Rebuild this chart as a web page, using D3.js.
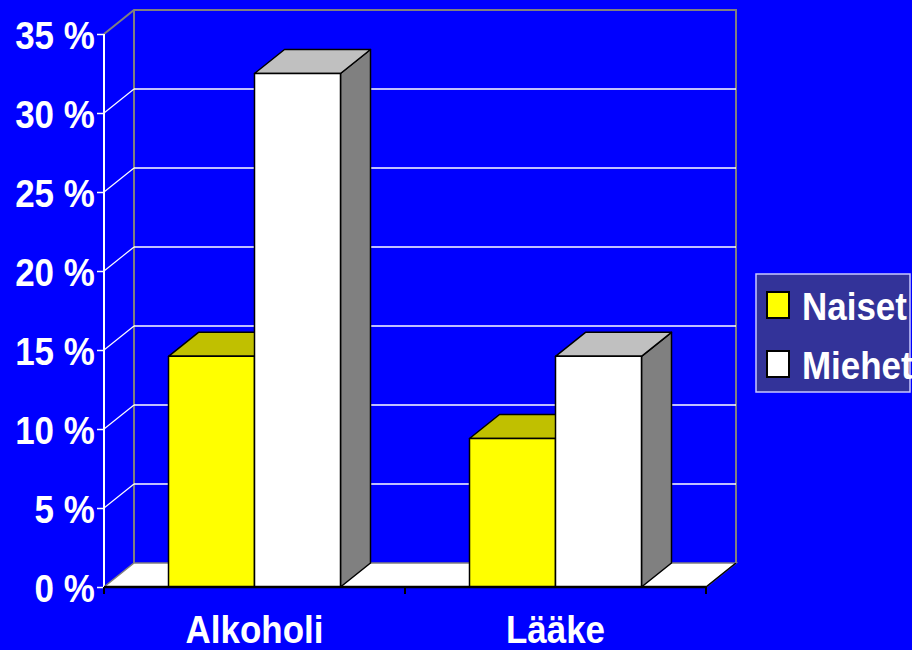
<!DOCTYPE html>
<html lang="fi">
<head>
<meta charset="utf-8">
<title>Alkoholi ja lääke</title>
<script src="https://d3js.org/d3.v7.min.js"></script>
<style>
  body { margin: 0; background: #0000ff; }
  text { font-family: "Liberation Sans", Arial, sans-serif; font-weight: bold; fill: #fff; }
</style>
</head>
<body>
<div id="chart"></div>
<script>
// data
var categories = ["Alkoholi", "Lääke"];
var series = ["Naiset", "Miehet"];
var naiset = [14.6, 9.4];
var miehet = [32.5, 14.6];
var yTicks = [0, 5, 10, 15, 20, 25, 30, 35];

var w = 912, h = 650;
var dx = 30, dy = -24;   // depth of the 3d box

var svg = d3.select("#chart").append("svg")
  .attr("width", w)
  .attr("height", h)
  .style("background-color", "#0000ff");

var y = d3.scaleLinear().domain([0, 35]).range([587, 34]);
var x0 = d3.scaleBand().domain(categories).range([104, 706])
  .paddingInner(0.4286).paddingOuter(0.2143);
var x1 = d3.scaleBand().domain(series).range([0, x0.bandwidth()]);

var fronts = { Naiset: "#ffff00", Miehet: "#ffffff" };
var tops = { Naiset: "#c0c000", Miehet: "#c0c0c0" };
var sides = { Naiset: "#808000", Miehet: "#808080" };

var xLeft = 104, xRight = 706, yBase = y(0), yTop = y(35);

// floor
var walls = svg.append("g");
walls.append("path")
  .attr("d", "M" + xLeft + "," + yBase + "L" + xRight + "," + yBase + "L" + (xRight + dx) + "," + (yBase + dy) +
    "L" + (xLeft + dx) + "," + (yBase + dy) + "Z")
  .attr("fill", "#fff").attr("stroke", "#808080").attr("stroke-width", 1.5);
walls.append("line")
  .attr("x1", xRight).attr("y1", yBase).attr("x2", xRight + dx).attr("y2", yBase + dy)
  .attr("stroke", "#000").attr("stroke-width", 1.5);

// gridlines on back wall and side wall
var grid = svg.append("g");
yTicks.slice(1, -1).forEach(function(t) {
  grid.append("line")
    .attr("x1", xLeft + dx).attr("x2", xRight + dx)
    .attr("y1", y(t) + dy).attr("y2", y(t) + dy)
    .attr("stroke", "#fff").attr("stroke-width", 1.5);
  grid.append("line")
    .attr("x1", xLeft).attr("x2", xLeft + dx)
    .attr("y1", y(t)).attr("y2", y(t) + dy)
    .attr("stroke", "#fff").attr("stroke-width", 1.2);
});

// back wall border
walls.append("path")
  .attr("d", "M" + xLeft + "," + yTop + "L" + (xLeft + dx) + "," + (yTop + dy) + "L" + (xRight + dx) + "," + (yTop + dy) +
    "L" + (xRight + dx) + "," + (yBase + dy))
  .attr("fill", "none").attr("stroke", "#808080").attr("stroke-width", 2);
walls.append("line")
  .attr("x1", xLeft + dx).attr("x2", xLeft + dx).attr("y1", yTop + dy).attr("y2", yBase + dy)
  .attr("stroke", "#808080").attr("stroke-width", 2);

// bars
var bars = svg.append("g");
categories.forEach(function(c, i) {
  var vals = { Naiset: naiset[i], Miehet: miehet[i] };
  series.forEach(function(s) {
    var bx = x0(c) + x1(s), bw = x1.bandwidth(), by = y(vals[s]);
    var g = bars.append("g").attr("stroke", "#000").attr("stroke-width", 1.5).attr("stroke-linejoin", "round");
    g.append("path")
      .attr("d", "M" + (bx + bw) + "," + by + "L" + (bx + bw + dx) + "," + (by + dy) + "L" + (bx + bw + dx) + "," + (yBase + dy) +
        "L" + (bx + bw) + "," + yBase + "Z")
      .attr("fill", sides[s]);
    g.append("path")
      .attr("d", "M" + bx + "," + by + "L" + (bx + dx) + "," + (by + dy) + "L" + (bx + bw + dx) + "," + (by + dy) +
        "L" + (bx + bw) + "," + by + "Z")
      .attr("fill", tops[s]);
    g.append("rect")
      .attr("x", bx).attr("y", by).attr("width", bw).attr("height", yBase - by)
      .attr("fill", fronts[s]);
  });
});

// y axis
var yAxis = svg.append("g")
  .attr("transform", "translate(" + xLeft + ",0)")
  .call(d3.axisLeft(y).tickValues(yTicks).tickSize(7).tickPadding(3)
    .tickFormat(function(d) { return d + " %"; }));
yAxis.select(".domain").attr("stroke", "#fff").attr("stroke-width", 2).attr("d", "M0," + yTop + "V" + yBase);
yAxis.selectAll(".tick line").attr("stroke", "#fff").attr("stroke-width", 1.5);
yAxis.selectAll(".tick text")
  .attr("fill", "#fff").attr("font-size", 38).attr("dy", "0.39em")
  .attr("transform", "scale(0.92,1)")
  .style("font-family", "'Liberation Sans', Arial, sans-serif").style("font-weight", "bold");

// x axis
var xAxis = svg.append("g")
  .attr("transform", "translate(0," + yBase + ")")
  .call(d3.axisBottom(x0).tickSize(0).tickPadding(29));
xAxis.select(".domain").attr("stroke", "#000").attr("stroke-width", 2.5).attr("d", "M" + xLeft + ",0H" + xRight);
xAxis.selectAll(".tick text")
  .attr("fill", "#fff").attr("font-size", 38).attr("dy", "0.71em")
  .attr("transform", "scale(0.92,1)")
  .style("font-family", "'Liberation Sans', Arial, sans-serif").style("font-weight", "bold");
// category boundary ticks
var bounds = [xLeft, (x0(categories[0]) + x0.bandwidth() + x0(categories[1])) / 2, xRight];
xAxis.selectAll(".sep").data(bounds).enter().append("line")
  .attr("x1", function(d) { return d; }).attr("x2", function(d) { return d; })
  .attr("y1", 0).attr("y2", 7)
  .attr("stroke", "#000").attr("stroke-width", 2);

// legend
var legend = svg.append("g").attr("transform", "translate(756,274)");
legend.append("rect")
  .attr("width", 154).attr("height", 118)
  .attr("fill", "#333399").attr("stroke", "#c8c8ff").attr("stroke-width", 1.5);
series.forEach(function(s, i) {
  var row = legend.append("g").attr("transform", "translate(0," + (i * 59) + ")");
  row.append("rect")
    .attr("x", 11).attr("y", 18).attr("width", 22).attr("height", 26)
    .attr("fill", fronts[s]).attr("stroke", "#000").attr("stroke-width", 2);
  row.append("text")
    .attr("transform", "translate(46,46) scale(0.92,1)")
    .attr("font-size", 38)
    .text(s);
});
</script>
</body>
</html>
